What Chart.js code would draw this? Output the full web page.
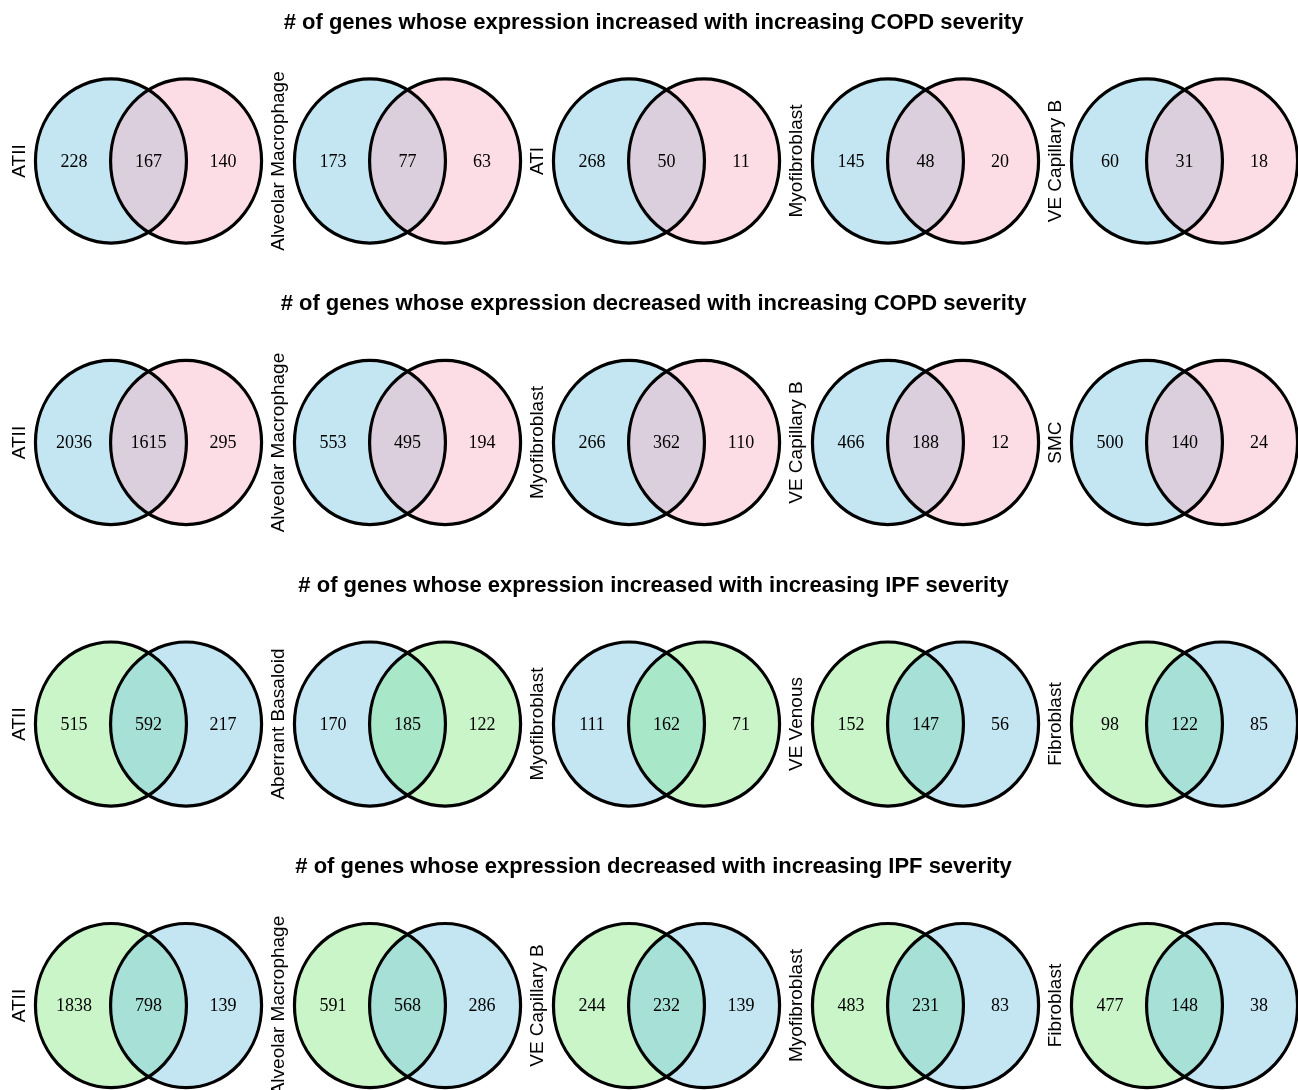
<!DOCTYPE html>
<html>
<head>
<meta charset="utf-8">
<script src="https://cdn.jsdelivr.net/npm/chart.js@4.4.1/dist/chart.umd.min.js"></script>
<style>
  html, body { margin: 0; padding: 0; background: #ffffff; }
  #wrap { width: 1298px; height: 1090px; }
</style>
</head>
<body>
<div id="wrap"><canvas id="venn" width="1298" height="1090"></canvas></div>
<script>
// Panel titles, one per row of Venn diagrams
const rowTitles = [
  "# of genes whose expression increased with increasing COPD severity",
  "# of genes whose expression decreased with increasing COPD severity",
  "# of genes whose expression increased with increasing IPF severity",
  "# of genes whose expression decreased with increasing IPF severity"
];

// Cell type of each diagram
const cellTypes = [
  ["ATII", "Alveolar Macrophage", "ATI", "Myofibroblast", "VE Capillary B"],
  ["ATII", "Alveolar Macrophage", "Myofibroblast", "VE Capillary B", "SMC"],
  ["ATII", "Aberrant Basaloid", "Myofibroblast", "VE Venous", "Fibroblast"],
  ["ATII", "Alveolar Macrophage", "VE Capillary B", "Myofibroblast", "Fibroblast"]
];

// Gene counts: left set only, shared, right set only
const leftOnly = [
  [228, 173, 268, 145, 60],
  [2036, 553, 266, 466, 500],
  [515, 170, 111, 152, 98],
  [1838, 591, 244, 483, 477]
];
const shared = [
  [167, 77, 50, 48, 31],
  [1615, 495, 362, 188, 140],
  [592, 185, 162, 147, 122],
  [798, 568, 232, 231, 148]
];
const rightOnly = [
  [140, 63, 11, 20, 18],
  [295, 194, 110, 12, 24],
  [217, 122, 71, 56, 85],
  [139, 286, 139, 83, 38]
];

// Colour pairing of each diagram (left set / right set)
const colourPairs = [
  ["BP", "BP", "BP", "BP", "BP"],
  ["BP", "BP", "BP", "BP", "BP"],
  ["GB", "BG", "BG", "GB", "GB"],
  ["GB", "GB", "GB", "GB", "GB"]
];

const palettes = {
  BP: { left: "#c4e6f3", right: "#fddde5", both: "#dccfdd" },
  GB: { left: "#c9f5c8", right: "#c4e6f3", both: "#a6e0d7" },
  BG: { left: "#c4e6f3", right: "#c9f5c8", both: "#a8e7c8" }
};

// Geometry in data units (one unit = one diagram column / row)
const R = 0.2915;          // circle radius
const HALF_SEP = 0.145;    // half distance between the two circle centres
const COUNT_DX = 0.2876;   // horizontal offset of the side counts
const NAME_DX = 0.496;     // offset of the rotated cell-type label
const TITLE_DY = 0.492;    // title sits about half a row above the diagrams
const TITLE_X = 1.95;      // horizontal anchor of the titles

const countPoints = [];
const namePoints = [];
const titlePoints = [];
const circles = [];
rowTitles.forEach((t, r) => {
  titlePoints.push({ x: TITLE_X, y: r - TITLE_DY, text: t });
  cellTypes[r].forEach((name, c) => {
    countPoints.push({ x: c - COUNT_DX, y: r, text: String(leftOnly[r][c]) });
    countPoints.push({ x: c, y: r, text: String(shared[r][c]) });
    countPoints.push({ x: c + COUNT_DX, y: r, text: String(rightOnly[r][c]) });
    namePoints.push({ x: c - NAME_DX, y: r, text: name });
    circles.push({ x: c, y: r, pal: palettes[colourPairs[r][c]] });
  });
});

const vennPlugin = {
  id: "venn",
  beforeDatasetsDraw(chart) {
    const ctx = chart.ctx;
    const xs = chart.scales.x, ys = chart.scales.y;
    const rx = Math.abs(xs.getPixelForValue(R) - xs.getPixelForValue(0));
    const ry = Math.abs(ys.getPixelForValue(R) - ys.getPixelForValue(0));
    const ell = (cx, cy) => { ctx.beginPath(); ctx.ellipse(cx, cy, rx, ry, 0, 0, Math.PI * 2); };
    circles.forEach(v => {
      const lx = xs.getPixelForValue(v.x - HALF_SEP);
      const rxp = xs.getPixelForValue(v.x + HALF_SEP);
      const cy = ys.getPixelForValue(v.y);
      ctx.save();
      ell(lx, cy); ctx.fillStyle = v.pal.left; ctx.fill();
      ell(rxp, cy); ctx.fillStyle = v.pal.right; ctx.fill();
      ctx.save();
      ell(lx, cy); ctx.clip();
      ell(rxp, cy); ctx.fillStyle = v.pal.both; ctx.fill();
      ctx.restore();
      ctx.lineWidth = 3.2; ctx.strokeStyle = "#000000";
      ell(lx, cy); ctx.stroke();
      ell(rxp, cy); ctx.stroke();
      ctx.restore();
    });
  },
  afterDatasetsDraw(chart) {
    const ctx = chart.ctx;
    const draw = (idx, font, rot, dy) => {
      const ds = chart.data.datasets[idx];
      const meta = chart.getDatasetMeta(idx);
      meta.data.forEach((el, i) => {
        ctx.save();
        ctx.translate(el.x, el.y + dy);
        if (rot) ctx.rotate(-Math.PI / 2);
        ctx.font = font;
        ctx.fillStyle = "#000000";
        ctx.textAlign = "center";
        ctx.textBaseline = "middle";
        ctx.fillText(ds.data[i].text, 0, 0);
        ctx.restore();
      });
    };
    draw(0, '18px "Liberation Serif", "Times New Roman", serif', false, 1);
    draw(1, '19px "Liberation Sans", Arial, sans-serif', true, 0);
    draw(2, 'bold 22px "Liberation Sans", Arial, sans-serif', false, 0);
  }
};

new Chart(document.getElementById("venn"), {
  type: "scatter",
  data: {
    datasets: [
      { label: "counts", data: countPoints, pointRadius: 0 },
      { label: "cell types", data: namePoints, pointRadius: 0 },
      { label: "titles", data: titlePoints, pointRadius: 0 }
    ]
  },
  options: {
    responsive: false,
    animation: false,
    layout: { padding: 0 },
    plugins: { legend: { display: false }, tooltip: { enabled: false } },
    scales: {
      x: { type: "linear", display: false, min: -0.5734, max: 4.4382 },
      y: { type: "linear", display: false, reverse: true, min: -0.572, max: 3.300 }
    }
  },
  plugins: [vennPlugin]
});
</script>
</body>
</html>
